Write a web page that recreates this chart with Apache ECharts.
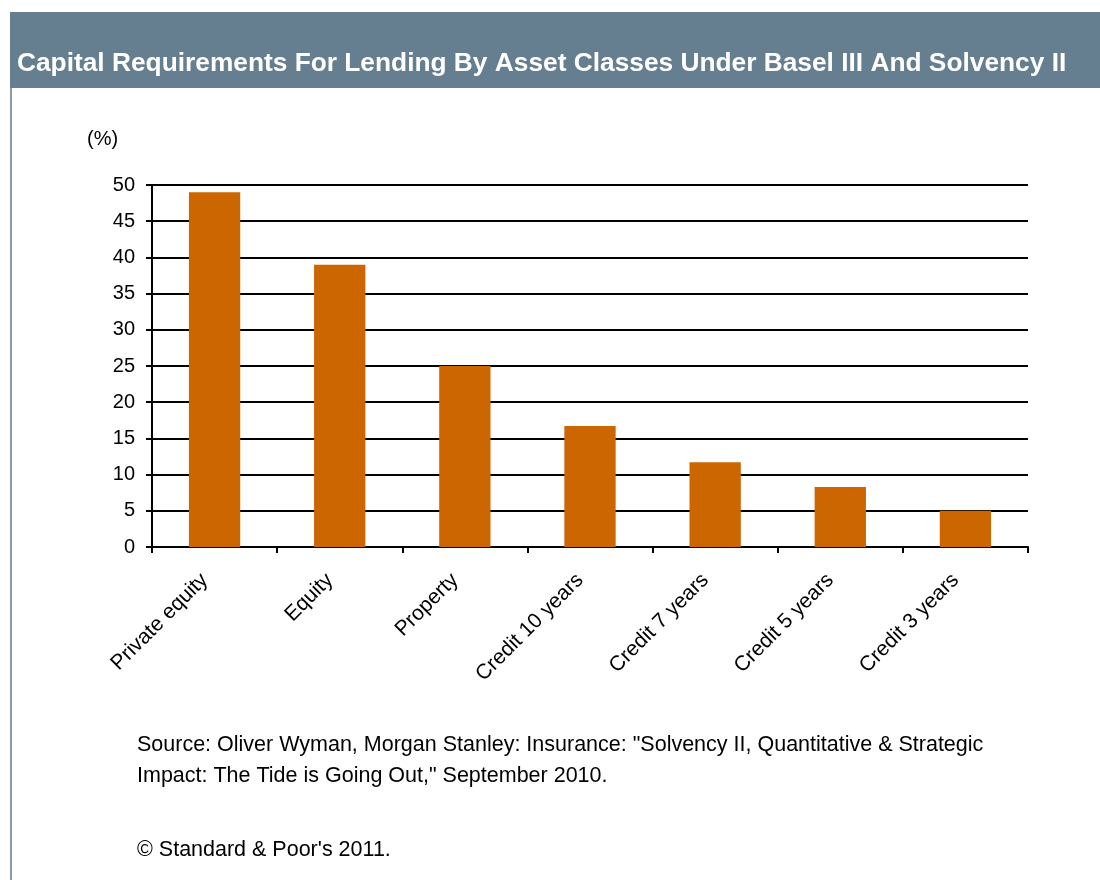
<!DOCTYPE html>
<html>
<head>
<meta charset="utf-8">
<script src="https://cdn.jsdelivr.net/npm/echarts@6/dist/echarts.min.js"></script>
<style>
  html, body { margin: 0; padding: 0; background: #fff; }
  #chart { width: 1100px; height: 880px; }
</style>
</head>
<body>
<div id="chart"></div>
<script>
// data
const categories = ["Private equity", "Equity", "Property", "Credit 10 years", "Credit 7 years", "Credit 5 years", "Credit 3 years"];
const capitalReq = [49, 39, 25, 16.7, 11.7, 8.3, 5.0];
const yTicks = [0, 5, 10, 15, 20, 25, 30, 35, 40, 45, 50];

const titleText = "Capital Requirements For Lending By Asset Classes Under Basel III And Solvency II";
const sourceLines = [
  "Source: Oliver Wyman, Morgan Stanley: Insurance: \"Solvency II, Quantitative & Strategic",
  "Impact: The Tide is Going Out,\" September 2010."
];
const copyright = "\u00A9 Standard & Poor's 2011.";

const chartDom = document.getElementById("chart");
const myChart = echarts.init(chartDom);

const option = {
  animation: false,
  backgroundColor: "#fff",
  textStyle: { fontFamily: "Liberation Sans, Arial, sans-serif" },
  grid: {
    left: 152,
    right: 72,
    top: 185,
    bottom: 333,
  },
  xAxis: {
    type: "category",
    data: categories,
    axisLine: { lineStyle: { color: "#000", width: 2 } },
    axisTick: { show: true, length: 6, alignWithLabel: false, lineStyle: { color: "#000", width: 2 } },
    axisLabel: {
      rotate: 45,
      color: "#000",
      fontSize: 21,
      margin: 20,
      padding: [0, 14, 0, 0],
      interval: 0,
    },
  },
  yAxis: {
    type: "value",
    min: yTicks[0],
    max: yTicks[yTicks.length - 1],
    interval: 5,
    axisLine: { show: true, lineStyle: { color: "#000", width: 2 } },
    axisTick: { show: true, length: 6, lineStyle: { color: "#000", width: 2 } },
    axisLabel: { color: "#000", fontSize: 20, margin: 17 },
    splitLine: { lineStyle: { color: "#000", width: 2 } },
  },
  series: [
    {
      type: "bar",
      data: capitalReq,
      barWidth: "41%",
      itemStyle: { color: "#CC6600" },
    },
  ],
  graphic: [
    {
      type: "rect",
      shape: { x: 10, y: 12, width: 1090, height: 76 },
      style: { fill: "#667f90" },
      silent: true,
    },
    {
      type: "rect",
      shape: { x: 10, y: 88, width: 2, height: 792 },
      style: { fill: "#8a9aa6" },
      silent: true,
    },
    {
      type: "text",
      left: 17,
      top: 51,
      style: {
        text: titleText,
        fill: "#fff",
        font: "bold 26.3px 'Liberation Sans', Arial, sans-serif",
      },
    },
    {
      type: "text",
      left: 87,
      top: 129,
      style: { text: "(%)", fill: "#000", font: "20px 'Liberation Sans', Arial, sans-serif" },
    },
    {
      type: "text",
      left: 137,
      top: 730,
      style: {
        text: sourceLines.join("\n"),
        fill: "#000",
        lineHeight: 31,
        font: "21.5px 'Liberation Sans', Arial, sans-serif",
      },
    },
    {
      type: "text",
      left: 137,
      top: 839,
      style: { text: copyright, fill: "#000", font: "21.5px 'Liberation Sans', Arial, sans-serif" },
    },
  ],
};

option && myChart.setOption(option);
</script>
</body>
</html>
